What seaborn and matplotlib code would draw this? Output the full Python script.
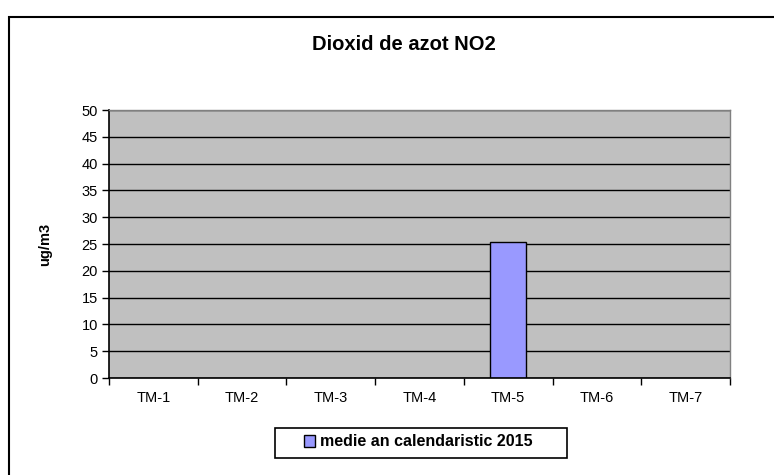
import numpy as np
import pandas as pd
import seaborn as sns
import matplotlib.pyplot as plt
from matplotlib.patches import Rectangle

# DATA
stations = ["TM-1", "TM-2", "TM-3", "TM-4", "TM-5", "TM-6", "TM-7"]
no2_mean = [np.nan, np.nan, np.nan, np.nan, 25.4, np.nan, np.nan]
series_name = "medie an calendaristic 2015"
y_ticks = [0, 5, 10, 15, 20, 25, 30, 35, 40, 45, 50]

df = pd.DataFrame({"station": stations, "value": no2_mean})

sns.set_theme(style="white")
plt.rcParams["font.family"] = ["Liberation Sans", "DejaVu Sans"]
plt.rcParams["text.color"] = "black"
plt.rcParams["axes.labelcolor"] = "black"
plt.rcParams["xtick.color"] = "black"
plt.rcParams["ytick.color"] = "black"

fig = plt.figure(figsize=(7.74, 4.75), dpi=100)
ax = fig.add_axes([109 / 774, 1 - 378 / 475, 621 / 774, 268 / 475])
ax.set_facecolor("#C0C0C0")

sns.barplot(
    data=df, x="station", y="value", order=stations, color="#9999FF",
    width=0.4, edgecolor="black", linewidth=1, saturation=1,
    label=series_name, ax=ax,
)

# Graph details
ax.set_ylim(0, 50)
ax.set_yticks(y_ticks)
ax.set_xlim(-0.5, len(stations) - 0.5)
ax.yaxis.grid(True, color="black", linewidth=1)
ax.set_axisbelow(True)
ax.tick_params(axis="y", length=5, width=1, color="black", labelsize=10.5, pad=3, left=True)
ax.tick_params(axis="x", length=0, labelsize=10.5, pad=9)
ax.set_xticks(np.arange(-0.5, len(stations)), minor=True)
ax.tick_params(axis="x", which="minor", length=5, width=1, color="black", bottom=True)
for s in ["left", "bottom"]:
    ax.spines[s].set_color("black")
    ax.spines[s].set_linewidth(1.2)
for s in ["top", "right"]:
    ax.spines[s].set_color("#808080")
    ax.spines[s].set_linewidth(1)
ax.set_xlabel("")
ax.set_ylabel("ug/m3", fontsize=10.5, fontweight="bold", labelpad=21)
fig.text(404 / 774, 1 - 45 / 475, "Dioxid de azot NO2", ha="center", va="center",
         fontsize=14.5, fontweight="bold")

# Legend with a wide square box like the original
leg = ax.legend(loc="center", bbox_to_anchor=(418 / 774, 1 - 442 / 475),
                bbox_transform=fig.transFigure, frameon=False,
                prop={"size": 11.5, "weight": "bold"}, handlelength=0.7, handleheight=0.7,
                handletextpad=0.3, borderaxespad=0)
fig.add_artist(Rectangle((275 / 774, 1 - 458 / 475), 292 / 774, 30 / 475,
                         transform=fig.transFigure, fill=False, edgecolor="black", linewidth=1.2))

# Outer chart frame
fig.add_artist(Rectangle((9 / 774, -0.01), 2, 1 - 17 / 475 + 0.01, transform=fig.transFigure,
                         fill=False, edgecolor="black", linewidth=1.5))

fig.savefig("out.png", dpi=100)
